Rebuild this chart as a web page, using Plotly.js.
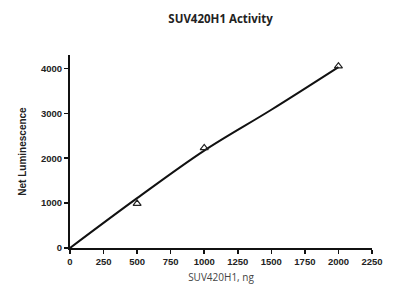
<!DOCTYPE html>
<html>
<head>
<meta charset="utf-8">
<script src="https://cdn.plot.ly/plotly-3.0.1.min.js"></script>
<style>html,body{margin:0;padding:0;background:#fff;}#chart{width:394px;height:286px;}</style>
</head>
<body>
<div id="chart"></div>
<script>
// Measured points
const amountNg = [500, 1000, 2000];
const luminescence = [990, 2230, 4050];
// Fitted curve
const fitNg = [0, 500, 1000, 1500, 2000];
const fitLum = [0, 1110, 2170, 3080, 4030];
const xTicks = [0, 250, 500, 750, 1000, 1250, 1500, 1750, 2000, 2250];
const yTicks = [0, 1000, 2000, 3000, 4000];

const traces = [
  {x: fitNg, y: fitLum, mode: 'lines', line: {color: '#111', width: 2, shape: 'spline'}, hoverinfo: 'skip', showlegend: false},
  {x: amountNg, y: luminescence, mode: 'markers', marker: {symbol: 'triangle-up-open', size: 7, color: '#222', line: {width: 1.2}}, showlegend: false}
];
const tickFont = {family: 'Liberation Sans, Arial, sans-serif', size: 9.5, color: '#222', weight: 'bold'};
const layout = {
  width: 394, height: 286,
  margin: {l: 70, r: 22, t: 55, b: 38},
  paper_bgcolor: '#fff', plot_bgcolor: '#fff',
  title: {text: '<b>SUV420H1 Activity</b>', x: 0.56, xanchor: 'center', y: 0.935, yanchor: 'middle',
          font: {family: 'Open Sans, sans-serif', size: 11.5, color: '#222'}},
  xaxis: {range: [0, 2250], tickvals: xTicks, ticktext: xTicks.map(String), showgrid: false, zeroline: false,
          showline: true, linecolor: '#111', linewidth: 2, ticks: 'outside', ticklen: 4, tickwidth: 1.5, tickcolor: '#111',
          tickfont: tickFont, title: {text: 'SUV420H1, ng', font: {family: 'Open Sans, sans-serif', size: 10, color: '#444'}, standoff: 8}},
  yaxis: {range: [0, 4300], tickvals: yTicks, ticktext: yTicks.map(String), showgrid: false, zeroline: false,
          showline: true, linecolor: '#111', linewidth: 2, ticks: 'outside', ticklen: 4, tickwidth: 1.5, tickcolor: '#111',
          tickfont: tickFont, title: {text: '<b>Net Luminescence</b>', font: {family: 'Liberation Sans, Arial, sans-serif', size: 10, color: '#222'}, standoff: 12}},
  showlegend: false
};
Plotly.newPlot('chart', traces, layout, {staticPlot: true, displayModeBar: false});
</script>
</body>
</html>
